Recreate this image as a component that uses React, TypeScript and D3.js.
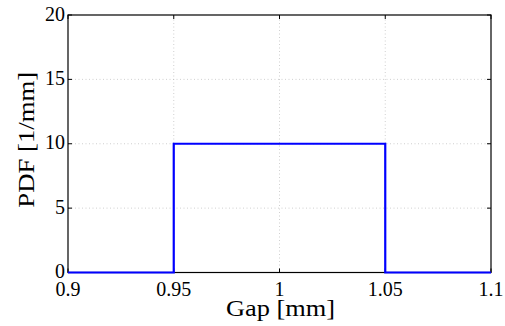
import React, { useEffect, useRef } from 'react';
import * as d3 from 'd3';

const gapValues = [0.9, 0.95, 0.95, 1.05, 1.05, 1.1];
const pdfValues = [0, 0, 10, 10, 0, 0];
const xTicks = [0.9, 0.95, 1, 1.05, 1.1];
const yTicks = [0, 5, 10, 15, 20];

const W = 505;
const H = 326;
const margin = { left: 68, right: 14, top: 15, bottom: 53.5 };
const FONT = "'Liberation Serif', 'DejaVu Serif', serif";

const App = () => {
  const ref = useRef<SVGSVGElement>(null);

  useEffect(() => {
    const svg = d3.select(ref.current);
    svg.selectAll('*').remove();

    const x = d3.scaleLinear().domain([0.9, 1.1]).range([margin.left, W - margin.right]);
    const y = d3.scaleLinear().domain([0, 20]).range([H - margin.bottom, margin.top]);

    // grid
    const grid = svg.append('g').attr('stroke', '#b0b0b0').attr('stroke-width', 0.6).attr('stroke-dasharray', '1,2.5');
    xTicks.slice(1, -1).forEach(t => {
      grid.append('line').attr('x1', x(t)).attr('x2', x(t)).attr('y1', y(0)).attr('y2', y(20));
    });
    yTicks.slice(1, -1).forEach(t => {
      grid.append('line').attr('x1', x(0.9)).attr('x2', x(1.1)).attr('y1', y(t)).attr('y2', y(t));
    });

    // box
    svg.append('rect')
      .attr('x', x(0.9)).attr('y', y(20))
      .attr('width', x(1.1) - x(0.9)).attr('height', y(0) - y(20))
      .attr('fill', 'none').attr('stroke', '#000').attr('stroke-width', 1.2);

    // ticks inward on all sides
    const tk = svg.append('g').attr('stroke', '#000').attr('stroke-width', 1);
    xTicks.forEach(t => {
      tk.append('line').attr('x1', x(t)).attr('x2', x(t)).attr('y1', y(0)).attr('y2', y(0) - 4);
      tk.append('line').attr('x1', x(t)).attr('x2', x(t)).attr('y1', y(20)).attr('y2', y(20) + 4);
    });
    yTicks.forEach(t => {
      tk.append('line').attr('x1', x(0.9)).attr('x2', x(0.9) + 4).attr('y1', y(t)).attr('y2', y(t));
      tk.append('line').attr('x1', x(1.1)).attr('x2', x(1.1) - 4).attr('y1', y(t)).attr('y2', y(t));
    });

    // tick labels
    svg.append('g').selectAll('text').data(xTicks).enter().append('text')
      .attr('x', d => x(d)).attr('y', y(0) + 23)
      .attr('text-anchor', 'middle').attr('font-family', FONT).attr('font-size', 20)
      .text(d => String(d));
    svg.append('g').selectAll('text').data(yTicks).enter().append('text')
      .attr('x', x(0.9) - 3).attr('y', d => y(d) + 5.5)
      .attr('text-anchor', 'end').attr('font-family', FONT).attr('font-size', 20)
      .text(d => String(d));

    // axis labels
    svg.append('text')
      .attr('x', 280.5).attr('y', 316)
      .attr('text-anchor', 'middle').attr('font-family', FONT).attr('font-size', 23)
      .attr('textLength', 109).attr('lengthAdjust', 'spacingAndGlyphs')
      .text('Gap [mm]');
    svg.append('text')
      .attr('transform', `translate(34, ${(y(0) + y(20)) / 2 - 4}) rotate(-90)`)
      .attr('text-anchor', 'middle').attr('font-family', FONT).attr('font-size', 23)
      .attr('textLength', 136).attr('lengthAdjust', 'spacingAndGlyphs')
      .text('PDF [1/mm]');

    // pdf line
    const line = d3.line<number>().x((d, i) => x(gapValues[i])).y(d => y(d));
    svg.append('path')
      .attr('d', line(pdfValues))
      .attr('fill', 'none').attr('stroke', '#0000ff').attr('stroke-width', 2.2);
  }, []);

  return <svg ref={ref} width={W} height={H} style={{ position: 'absolute', left: 0, top: 0, background: '#fff' }} />;
};

export default App;
